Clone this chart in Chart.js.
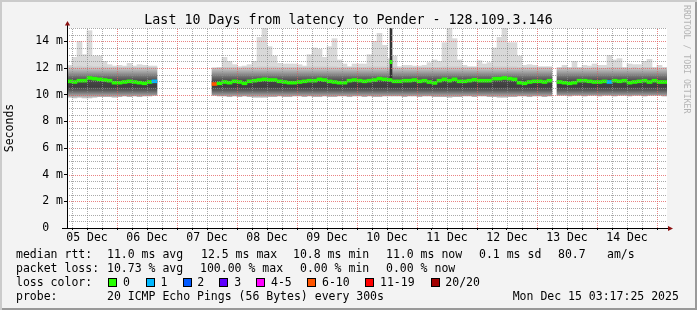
<!DOCTYPE html>
<html>
<head>
<meta charset="utf-8">
<script src="https://cdn.jsdelivr.net/npm/chart.js@4/dist/chart.umd.min.js"></script>
<style>
  html, body { margin: 0; padding: 0; background: #f3f3f3; }
  #frame {
    position: relative; width: 697px; height: 310px; overflow: hidden;
    background: #f3f3f3;
    box-shadow: inset 2px 2px 0 #cbcbcb, inset -2px -2px 0 #999;
    font-family: "DejaVu Sans Mono", monospace; color: #000;
  }
  #frame canvas { position: absolute; left: 0; top: 0; }
  .t { position: absolute; white-space: pre; line-height: 1; font-size: 11.5px; }
  .box { position: absolute; width: 7px; height: 7px; border: 1px solid #000; top: 277.7px; }
  .mark { position: absolute; left: 683px; top: 5px; font-size: 8.2px; line-height: 1;
          writing-mode: vertical-rl; color: #b4b4b4; white-space: pre; }
</style>
</head>
<body>
<div id="frame">
  <canvas id="smoke" width="697" height="310"></canvas>
  <div class="t" style="left:0;width:697px;text-align:center;top:12.6px;font-size:13.3px">Last 10 Days from latency to Pender - 128.109.3.146</div>
  <div class="mark">RRDTOOL / TOBI OETIKER</div>

  <div class="t" style="left:16px;top:248.8px">median rtt:</div>
  <div class="t" style="left:107px;top:248.8px">11.0 ms avg</div>
  <div class="t" style="left:201px;top:248.8px">12.5 ms max</div>
  <div class="t" style="left:293px;top:248.8px">10.8 ms min</div>
  <div class="t" style="left:386px;top:248.8px">11.0 ms now</div>
  <div class="t" style="left:479px;top:248.8px">0.1 ms sd</div>
  <div class="t" style="left:558px;top:248.8px">80.7</div>
  <div class="t" style="left:607px;top:248.8px">am/s</div>

  <div class="t" style="left:16px;top:262.8px">packet loss:</div>
  <div class="t" style="left:107px;top:262.8px">10.73 % avg</div>
  <div class="t" style="left:200px;top:262.8px">100.00 % max</div>
  <div class="t" style="left:300px;top:262.8px">0.00 % min</div>
  <div class="t" style="left:386px;top:262.8px">0.00 % now</div>

  <div class="t" style="left:16px;top:277.2px">loss color:</div>
  <div class="box" style="left:108px;background:#26ff00"></div><div class="t" style="left:123px;top:277.2px">0</div>
  <div class="box" style="left:145.5px;background:#00b8ff"></div><div class="t" style="left:160.5px;top:277.2px">1</div>
  <div class="box" style="left:182.5px;background:#0059ff"></div><div class="t" style="left:197.3px;top:277.2px">2</div>
  <div class="box" style="left:219.3px;background:#5e00ff"></div><div class="t" style="left:234.3px;top:277.2px">3</div>
  <div class="box" style="left:256.3px;background:#ff00ff"></div><div class="t" style="left:271px;top:277.2px">4-5</div>
  <div class="box" style="left:307.3px;background:#ff5500"></div><div class="t" style="left:322px;top:277.2px">6-10</div>
  <div class="box" style="left:365.3px;background:#ff0000"></div><div class="t" style="left:380px;top:277.2px">11-19</div>
  <div class="box" style="left:430.7px;background:#a10000"></div><div class="t" style="left:445.3px;top:277.2px">20/20</div>

  <div class="t" style="left:16px;top:291.2px">probe:</div>
  <div class="t" style="left:107px;top:291.2px">20 ICMP Echo Pings (56 Bytes) every 300s</div>
  <div class="t" style="left:512.7px;top:291.2px">Mon Dec 15 03:17:25 2025</div>
</div>
<script>
// 10 days starting Dec 05 04:00, one value per 2-hour bin (120 bins), in ms
var binHours = 2;
var dayLabels = ['05 Dec', '06 Dec', '07 Dec', '08 Dec', '09 Dec', '10 Dec', '11 Dec', '12 Dec', '13 Dec', '14 Dec'];

var median = [
  11.0, 10.95, 11.05, 11.05, 11.25, 11.2, 11.15, 11.1, 11.05, 10.9, 10.9, 10.95, 11.0, 10.95, 10.9, 10.85, 10.95, 11.0,
  null, null, null, null, null, null, null, null, null, null, null,
  10.8, 10.85, 10.95, 10.9, 11.0, 10.95, 10.85, 11.0, 11.05, 11.1,
  11.15, 11.1, 11.1, 11.0, 10.95, 10.9, 10.9, 10.95, 11.0, 11.05, 11.05, 11.15, 11.1, 11.0, 10.95, 10.9, 10.9, 11.05, 11.1,
  11.05, 11.0, 11.05, 11.1, 11.2, 11.15, 11.1,
  11.0, 11.0, 11.05, 11.05, 11.1, 11.0, 11.05, 10.95, 10.88, 11.05, 11.15, 11.05, 11.15,
  11.0, 11.0, 11.05, 11.12, 11.05, 11.05, 11.05, 11.2, 11.2, 11.25, 11.2, 11.15, 10.9, 10.85, 10.95, 11.0, 11.0, 10.95, 11.05,
  null,
  10.95, 10.9, 10.85, 10.9, 11.05, 11.05, 11.0, 10.95, 10.95, 11.0, 10.95, 11.05, 11.0, 11.05, 10.9, 10.95, 11.0, 11.05, 10.95, 11.05, 10.95, 10.95
];

var peak = [
  12.2, 12.8, 14.0, 13.0, 14.8, 12.9, 12.9, 12.5, 12.25, 12.15, 12.2, 12.15, 12.35, 12.15, 12.25, 12.2, 12.15, 12.15,
  null, null, null, null, null, null, null, null, null, null, null,
  12.0, 12.05, 12.8, 12.5, 12.25, 12.1, 12.15, 12.25, 12.5, 14.3,
  15.0, 13.6, 12.9, 12.35, 12.3, 12.3, 12.3, 12.25, 12.15, 13.0, 13.5, 13.4, 12.8, 13.6, 14.2, 12.6, 12.3, 12.1, 12.3,
  12.3, 12.3, 13.0, 14.0, 14.6, 13.7, 12.7,
  12.9, 12.1, 12.2, 12.2, 12.15, 12.15, 12.2, 12.4, 12.6, 12.5, 13.9, 15.0, 14.2,
  12.6, 12.2, 12.1, 12.1, 12.55, 12.3, 12.4, 13.5, 14.3, 15.0, 13.9, 13.9, 12.9, 12.2, 12.25, 12.2, 12.1, 12.1, 12.1,
  null,
  12.05, 12.2, 12.05, 12.5, 12.05, 12.2, 12.15, 12.3, 12.2, 12.2, 12.95, 12.6, 12.7, 12.05, 12.3, 12.25, 12.25, 12.5, 12.65, 12.05, 12.2, 12.05
];

var smokeHi = [
  12.1, 12.1, 12.15, 12.1, 12.15, 12.1, 12.1, 12.1, 12.05, 12.05, 12.05, 12.05, 12.1, 12.05, 12.05, 12.05, 12.05, 12.05,
  null, null, null, null, null, null, null, null, null, null, null,
  12.0, 12.0, 12.05, 12.05, 12.05, 12.0, 12.05, 12.05, 12.05, 12.1,
  12.1, 12.1, 12.1, 12.05, 12.05, 12.05, 12.05, 12.05, 12.05, 12.1, 12.1, 12.1, 12.1, 12.1, 12.1, 12.05, 12.05, 12.05, 12.05,
  12.05, 12.05, 12.1, 12.1, 12.1, 12.1, 12.1,
  12.1, 12.0, 12.05, 12.05, 12.05, 12.05, 12.05, 12.05, 12.05, 12.05, 12.1, 12.1, 12.1,
  12.1, 12.05, 12.05, 12.05, 12.05, 12.05, 12.05, 12.1, 12.1, 12.1, 12.1, 12.1, 12.05, 12.05, 12.05, 12.05, 12.05, 12.05, 12.05,
  null,
  12.0, 12.05, 12.0, 12.05, 12.0, 12.0, 12.0, 12.05, 12.0, 12.0, 12.05, 12.05, 12.05, 12.0, 12.0, 12.05, 12.0, 12.05, 12.05, 12.0, 12.0, 12.0
];

var smokeLo = [
  9.8, 9.75, 9.8, 9.75, 9.75, 9.8, 9.85, 9.85, 9.85, 9.8, 9.85, 9.9, 9.85, 9.9, 9.85, 9.9, 9.9, 9.95,
  null, null, null, null, null, null, null, null, null, null, null,
  9.95, 9.9, 9.9, 9.85, 9.9, 9.85, 9.9, 9.85, 9.8, 9.8,
  9.8, 9.85, 9.85, 9.9, 9.85, 9.85, 9.9, 9.9, 9.85, 9.9, 9.85, 9.85, 9.9, 9.85, 9.85, 9.9, 9.9, 9.85, 9.9,
  9.9, 9.85, 9.9, 9.85, 9.85, 9.9, 9.9,
  9.9, 9.9, 9.85, 9.9, 9.9, 9.85, 9.9, 9.9, 9.85, 9.85, 9.85, 9.8, 9.85,
  9.85, 9.9, 9.9, 9.85, 9.9, 9.9, 9.85, 9.85, 9.8, 9.8, 9.85, 9.85, 9.9, 9.9, 9.85, 9.9, 9.9, 9.85, 9.9,
  null,
  9.95, 9.95, 9.9, 9.95, 9.95, 9.9, 9.95, 9.95, 9.9, 9.95, 9.95, 9.9, 9.95, 9.95, 9.9, 9.95, 9.95, 9.9, 9.95, 9.95, 9.95, 9.9
];

// bins where some of the 20 pings were lost
var lossBin = [17, 29, 108];
var lossPings = [1, 8, 1];

// the short outage on 10 Dec (hours from start)
var spikeHour = [129.6];
var spikeLo = [11.2];
var spikeHi = [15.0];
var spikeMedian = [12.45];

// ---- styles ----
var lossLimit = [0, 1, 2, 3, 5, 10, 19, 20];
var lossColor = ['#26ff00', '#00b8ff', '#0059ff', '#5e00ff', '#ff00ff', '#ff5500', '#ff0000', '#a10000'];
var shadeAt = [12.1, 11.85, 11.6, 11.3, 11.0, 10.6, 10.3, 10.05, 9.75];
var shadeCol = ['#cfcfcf', '#b6b6b6', '#959595', '#6a6a6a', '#474747', '#3e3e3e', '#5e5e5e', '#8c8c8c', '#cacaca'];
var majorGrid = 'rgba(225,90,90,0.75)';
var minorGrid = 'rgba(140,140,140,0.75)';
var monoFont = { family: 'DejaVu Sans Mono', size: 11.5 };

function hourOf(i) { return i * binHours + binHours / 2; }

function floating(lo, hi) {
  var out = [];
  for (var i = 0; i < lo.length; i++) {
    if (lo[i] == null || hi[i] == null) continue;
    out.push({ x: hourOf(i), y: [lo[i], hi[i]] });
  }
  return out;
}

function colorForLoss(n) {
  for (var k = 0; k < lossLimit.length; k++) if (n <= lossLimit[k]) return lossColor[k];
  return lossColor[lossColor.length - 1];
}

var medianData = [], medianColors = [];
for (var i = 0; i < median.length; i++) {
  if (median[i] == null) continue;
  medianData.push({ x: hourOf(i), y: [median[i] - 0.11, median[i] + 0.11] });
  var li = lossBin.indexOf(i);
  medianColors.push(colorForLoss(li < 0 ? 0 : lossPings[li]));
}

var gridHours = [];
for (var h = 2; h <= 240; h += 6) gridHours.push(h);

function smokeFill(c) {
  var chart = c.chart;
  if (!chart.chartArea) return '#555';
  var y = chart.scales.y;
  var top = y.getPixelForValue(shadeAt[0]);
  var bot = y.getPixelForValue(shadeAt[shadeAt.length - 1]);
  var g = chart.ctx.createLinearGradient(0, top, 0, bot);
  for (var k = 0; k < shadeAt.length; k++) {
    g.addColorStop((y.getPixelForValue(shadeAt[k]) - top) / (bot - top), shadeCol[k]);
  }
  return g;
}

var barBase = { type: 'bar', grouped: false, borderWidth: 0, barThickness: 5 };

// grid drawn by hand on top of the smoke, using the axis scales
var gridOver = {
  id: 'gridOver',
  afterDatasetsDraw: function (chart) {
    var a = chart.chartArea, ctx = chart.ctx, xs = chart.scales.x, ys = chart.scales.y;
    ctx.save();
    ctx.lineWidth = 1;
    ctx.setLineDash([1, 1]);
    gridHours.forEach(function (v) {
      var px = Math.round(xs.getPixelForValue(v)) + 0.5;
      ctx.strokeStyle = (v - 20) % 24 === 0 ? majorGrid : minorGrid;
      ctx.beginPath(); ctx.moveTo(px, a.bottom); ctx.lineTo(px, a.top); ctx.stroke();
    });
    ys.ticks.forEach(function (t) {
      if (t.value === 0) return;
      var py = Math.round(ys.getPixelForValue(t.value)) + 0.5;
      ctx.strokeStyle = t.value % 2 === 0 ? majorGrid : minorGrid;
      ctx.beginPath(); ctx.moveTo(a.left, py); ctx.lineTo(a.right, py); ctx.stroke();
    });
    ctx.restore();
  }
};

var decor = {
  id: 'decor',
  beforeDraw: function (chart) {
    var a = chart.chartArea, ctx = chart.ctx;
    ctx.save();
    ctx.fillStyle = '#ffffff';
    ctx.fillRect(a.left, a.top, a.right - a.left, a.bottom - a.top);
    ctx.restore();
  },
  afterDraw: function (chart) {
    var a = chart.chartArea, ctx = chart.ctx;
    var x0 = Math.round(a.left) + 0.5, y0 = Math.round(a.bottom) + 0.5;
    ctx.save();
    ctx.strokeStyle = '#000';
    ctx.lineWidth = 1;
    ctx.beginPath();
    ctx.moveTo(x0, y0); ctx.lineTo(x0, a.top - 3);
    ctx.moveTo(a.left - 5, y0); ctx.lineTo(a.right + 1, y0);
    ctx.stroke();
    ctx.fillStyle = '#8b1010';
    ctx.beginPath();
    ctx.moveTo(x0, a.top - 7); ctx.lineTo(x0 - 2.6, a.top - 2.5); ctx.lineTo(x0 + 2.6, a.top - 2.5);
    ctx.closePath(); ctx.fill();
    ctx.beginPath();
    ctx.moveTo(a.right + 6, y0); ctx.lineTo(a.right + 1, y0 - 2.6); ctx.lineTo(a.right + 1, y0 + 2.6);
    ctx.closePath(); ctx.fill();
    ctx.restore();
  }
};

new Chart(document.getElementById('smoke'), {
  data: {
    datasets: [
      Object.assign({}, barBase, { label: 'peak', data: floating(smokeHi, peak), backgroundColor: '#d9d9d9', order: 4 }),
      Object.assign({}, barBase, { label: 'smoke', data: floating(smokeLo, smokeHi), backgroundColor: smokeFill, order: 3 }),
      Object.assign({}, barBase, { label: 'median', data: medianData, backgroundColor: medianColors, order: 1 }),
      { type: 'bar', label: 'outage', grouped: false, borderWidth: 0, barThickness: 2, order: 2,
        data: spikeHour.map(function (h, k) { return { x: h, y: [spikeLo[k], spikeHi[k]] }; }),
        backgroundColor: '#333333' },
      { type: 'bar', label: 'outage median', grouped: false, borderWidth: 0, barThickness: 2, order: 0,
        data: spikeHour.map(function (h, k) { return { x: h, y: [spikeMedian[k] - 0.12, spikeMedian[k] + 0.12] }; }),
        backgroundColor: lossColor[0] }
    ]
  },
  options: {
    responsive: false,
    animation: false,
    events: [],
    layout: { padding: { top: 28, right: 30, bottom: 62, left: 0 } },
    plugins: { legend: { display: false }, tooltip: { enabled: false }, title: { display: false } },
    scales: {
      x: {
        type: 'linear', min: 0, max: 240, offset: false,
        afterBuildTicks: function (s) { s.ticks = gridHours.map(function (v) { return { value: v }; }); },
        afterFit: function (s) { s.height = 20; },
        ticks: {
          autoSkip: false, maxRotation: 0, minRotation: 0, padding: 1, font: monoFont, color: '#000',
          callback: function (v) { return (v - 8) % 24 === 0 ? dayLabels[(v - 8) / 24] : ''; }
        },
        grid: { drawOnChartArea: false, offset: false, tickLength: 2, tickColor: '#000' },
        border: { color: '#000' }
      },
      y: {
        min: 0, max: 15,
        afterFit: function (s) { s.width = 67; },
        ticks: {
          stepSize: 0.5, autoSkip: false, padding: 1, font: monoFont, color: '#000',
          callback: function (v) { return v % 2 === 0 ? (v === 0 ? '0  ' : v + ' m') : ''; }
        },
        grid: {
          drawOnChartArea: false,
          tickLength: 3,
          tickColor: function (c) { return c.tick && c.tick.value % 2 === 0 ? '#000' : 'rgba(0,0,0,0)'; }
        },
        border: { color: '#000' },
        title: { display: true, text: 'Seconds', font: monoFont, color: '#000', padding: { top: 3, bottom: 0 } }
      }
    }
  },
  plugins: [decor, gridOver]
});
</script>
</body>
</html>
